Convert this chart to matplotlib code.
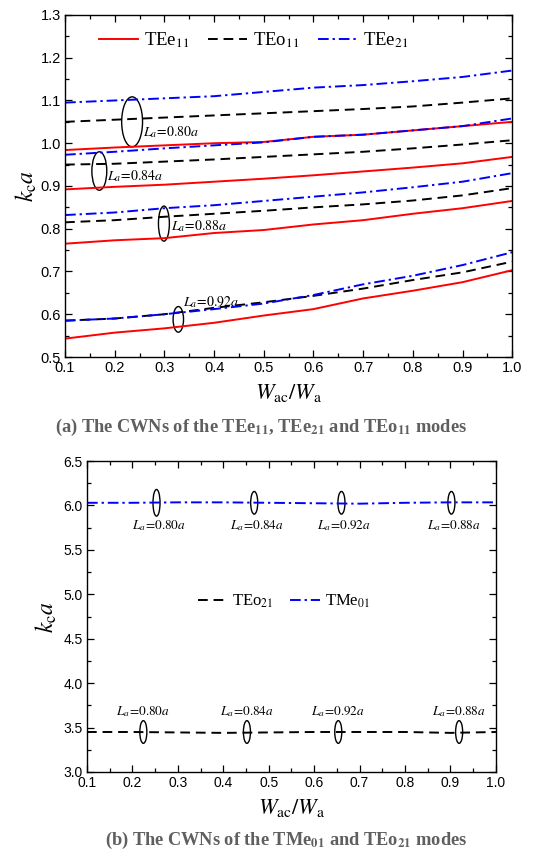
import matplotlib
matplotlib.use("Agg")
import matplotlib.pyplot as plt
from matplotlib.patches import Ellipse
from matplotlib.ticker import MultipleLocator

plt.rcParams['mathtext.fontset'] = 'stix'
plt.rcParams['font.family'] = ['Liberation Sans', 'DejaVu Sans']

# ---------------- data ----------------
x = [0.1, 0.2, 0.3, 0.4, 0.5, 0.6, 0.7, 0.8, 0.9, 1.0]

# (a) La = 0.80a
tee11_080 = [0.984, 0.990, 0.995, 1.000, 1.003, 1.015, 1.020, 1.030, 1.040, 1.050]
teo11_080 = [1.050, 1.055, 1.060, 1.065, 1.070, 1.075, 1.080, 1.086, 1.095, 1.105]
tee21_080 = [1.095, 1.100, 1.105, 1.110, 1.120, 1.130, 1.136, 1.145, 1.155, 1.170]
# La = 0.84a
tee11_084 = [0.892, 0.898, 0.903, 0.910, 0.917, 0.925, 0.934, 0.943, 0.953, 0.968]
teo11_084 = [0.950, 0.952, 0.957, 0.962, 0.968, 0.974, 0.980, 0.988, 0.997, 1.007]
tee21_084 = [0.973, 0.980, 0.988, 0.995, 1.002, 1.015, 1.020, 1.030, 1.040, 1.058]
# La = 0.88a
tee11_088 = [0.765, 0.773, 0.778, 0.790, 0.797, 0.810, 0.820, 0.835, 0.848, 0.865]
teo11_088 = [0.815, 0.820, 0.828, 0.835, 0.842, 0.850, 0.857, 0.866, 0.878, 0.895]
tee21_088 = [0.832, 0.838, 0.848, 0.855, 0.865, 0.875, 0.885, 0.897, 0.910, 0.930]
# La = 0.92a
tee11_092 = [0.543, 0.557, 0.567, 0.580, 0.597, 0.612, 0.637, 0.655, 0.675, 0.703]
teo11_092 = [0.585, 0.590, 0.600, 0.615, 0.628, 0.643, 0.660, 0.680, 0.698, 0.723]
tee21_092 = [0.585, 0.590, 0.600, 0.612, 0.625, 0.645, 0.670, 0.690, 0.715, 0.745]

# (b)
tme01 = [6.030, 6.030, 6.035, 6.035, 6.030, 6.025, 6.020, 6.030, 6.035, 6.035]
teo21 = [3.450, 3.450, 3.445, 3.440, 3.445, 3.450, 3.450, 3.450, 3.440, 3.450]

la_labels = ['0.80', '0.84', '0.88', '0.92']

# ---------------- figure ----------------
fig = plt.figure(figsize=(5.42, 8.5), dpi=100)
ax1 = fig.add_axes([0.120, 0.580, 0.825, 0.4024])
ax2 = fig.add_axes([0.1605, 0.0918, 0.7545, 0.3658])

red = dict(color='#ff0000', lw=1.4, ls='-')
blk = dict(color='black', lw=1.4, dashes=(5, 3))
blu = dict(color='#0000ff', lw=1.4, dashes=(5.5, 2, 1.2, 2))

groups = [(tee11_080, teo11_080, tee21_080),
          (tee11_084, teo11_084, tee21_084),
          (tee11_088, teo11_088, tee21_088),
          (tee11_092, teo11_092, tee21_092)]
for i, (r, k, b) in enumerate(groups):
    ax1.plot(x, r, label=r'TEe$_{11}$' if i == 0 else None, **red)
    ax1.plot(x, k, label=r'TEo$_{11}$' if i == 0 else None, **blk)
    ax1.plot(x, b, label=r'TEe$_{21}$' if i == 0 else None, **blu)

serif = ['Liberation Serif', 'DejaVu Serif']


def la_text(v):
    return r'$L_a\!=\!%s\mathit{a}$' % v


# ellipses and labels (a)
ell_a = [(0.235, 1.050, 0.042, 0.117, 0.257, 1.027),
         (0.169, 0.935, 0.030, 0.090, 0.185, 0.922),
         (0.299, 0.812, 0.022, 0.082, 0.313, 0.806),
         (0.328, 0.588, 0.021, 0.060, 0.337, 0.628)]
for (cx, cy, w, h, tx, ty), lab in zip(ell_a, la_labels):
    ax1.add_patch(Ellipse((cx, cy), w, h, fill=False, ec='black', lw=1.0))
    ax1.text(tx, ty, la_text(lab), fontsize=10, ha='left', va='center')

ax1.set_xlim(0.1, 1.0)
ax1.set_ylim(0.5, 1.3)
ax1.xaxis.set_major_locator(MultipleLocator(0.1))
ax1.xaxis.set_minor_locator(MultipleLocator(0.05))
ax1.yaxis.set_major_locator(MultipleLocator(0.1))
ax1.yaxis.set_minor_locator(MultipleLocator(0.05))

ax1.legend(loc='center left', bbox_to_anchor=(0.075, 0.927), ncol=3,
           frameon=False, borderpad=0, borderaxespad=0,
           handlelength=2.1, handletextpad=0.3, columnspacing=1.0,
           prop={'family': serif, 'size': 13.5})

ax1.set_xlabel(r'$W_{\mathrm{ac}}/W_{\mathrm{a}}$', fontsize=16, labelpad=5)
ax1.set_ylabel(r'$k_{\mathrm{c}}a$', fontsize=17, labelpad=1)

# (b)
ax2.plot(x, teo21, label=r'TEo$_{21}$', **blk)
ax2.plot(x, tme01, label=r'TMe$_{01}$', **blu)

ell_b_top = [0.253, 0.468, 0.660, 0.902]
lab_b = ['0.80', '0.84', '0.92', '0.88']
for i, (cx, lab) in enumerate(zip(ell_b_top, lab_b)):
    h = 0.30 if i == 0 else 0.255
    ax2.add_patch(Ellipse((cx, 6.03), 0.0155, h, fill=False, ec='black', lw=1.0))
    ax2.text(cx + 0.005, 5.77, la_text(lab), fontsize=9.5, ha='center', va='center')

ell_b_bot = [0.224, 0.452, 0.653, 0.919]
for cx, lab in zip(ell_b_bot, lab_b):
    ax2.add_patch(Ellipse((cx, 3.45), 0.0155, 0.255, fill=False, ec='black', lw=1.0))
    ax2.text(cx, 3.68, la_text(lab), fontsize=9.5, ha='center', va='center')

ax2.set_xlim(0.1, 1.0)
ax2.set_ylim(3.0, 6.5)
ax2.xaxis.set_major_locator(MultipleLocator(0.1))
ax2.xaxis.set_minor_locator(MultipleLocator(0.05))
ax2.yaxis.set_major_locator(MultipleLocator(0.5))
ax2.yaxis.set_minor_locator(MultipleLocator(0.25))

ax2.legend(loc='center left', bbox_to_anchor=(0.272, 0.5476), ncol=2,
           frameon=False, borderpad=0, borderaxespad=0,
           handlelength=1.75, handletextpad=0.3, columnspacing=1.0,
           prop={'family': serif, 'size': 12})

ax2.set_xlabel(r'$W_{\mathrm{ac}}/W_{\mathrm{a}}$', fontsize=16, labelpad=5)
ax2.set_ylabel(r'$k_{\mathrm{c}}a$', fontsize=17, labelpad=3)

for ax, fs in ((ax1, 10.5), (ax2, 10)):
    ax.tick_params(which='both', direction='in', top=True, right=True,
                   labelsize=fs, width=0.9)
    ax.tick_params(which='major', length=5, pad=3)
    ax.tick_params(which='minor', length=3)
    for s in ax.spines.values():
        s.set_linewidth(1.0)

cap_col = '#5f5f5f'
fig.text(0.482, 1 - 427 / 850,
         r'(a) The CWNs of the TEe$_{\mathbf{11}}$, TEe$_{\mathbf{21}}$ and TEo$_{\mathbf{11}}$ modes',
         ha='center', va='center', fontsize=13.2, fontweight='bold',
         family=serif, color=cap_col)
fig.text(0.528, 1 - 840 / 850,
         r'(b) The CWNs of the TMe$_{\mathbf{01}}$ and TEo$_{\mathbf{21}}$ modes',
         ha='center', va='center', fontsize=13.2, fontweight='bold',
         family=serif, color=cap_col)

fig.savefig('out.png', dpi=100)
